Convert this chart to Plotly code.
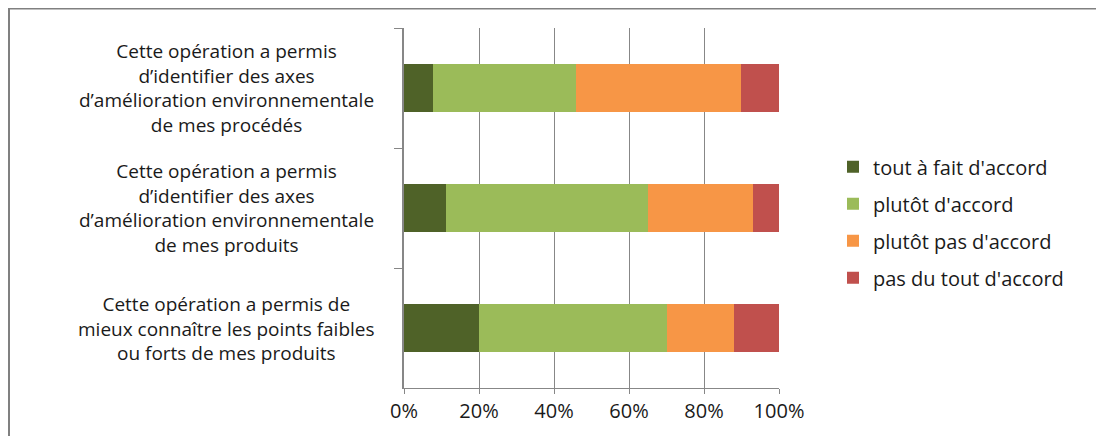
import plotly.graph_objects as go

# survey statements (top to bottom) and answer shares
categories = [
    "Cette opération a permis<br>d’identifier des axes<br>d’amélioration environnementale<br>de mes procédés",
    "Cette opération a permis<br>d’identifier des axes<br>d’amélioration environnementale<br>de mes produits",
    "Cette opération a permis de<br>mieux connaître les points faibles<br>ou forts de mes produits",
]
cat_ids = ["procedes", "produits", "points"]

series_names = ["tout à fait d'accord", "plutôt d'accord", "plutôt pas d'accord", "pas du tout d'accord"]
tout_a_fait = [0.077, 0.112, 0.199]
plutot = [0.381, 0.539, 0.502]
plutot_pas = [0.441, 0.280, 0.179]
pas_du_tout = [0.101, 0.077, 0.120]

colors = ["#4F6228", "#9BBB59", "#F79646", "#C0504D"]
x_ticks = [0, 0.2, 0.4, 0.6, 0.8, 1.0]

# the page body adds an 8px margin, so the figure is drawn 8px smaller
OFF = 8
W, H = 1104 - OFF, 436 - OFF
L, T = 404 - OFF, 28 - OFF
R, B = W - (779 - OFF), H - (390 - OFF)
pw, ph = W - L - R, H - T - B

def px_x(p):
    # reference pixel -> paper x
    return (p - OFF - L) / pw

def px_y(p):
    # reference pixel -> paper y
    return (H - B - (p - OFF)) / ph

fig = go.Figure()
for i, (name, vals) in enumerate(zip(series_names, [tout_a_fait, plutot, plutot_pas, pas_du_tout])):
    fig.add_trace(go.Bar(
        y=cat_ids, x=vals, name=name, orientation="h",
        marker=dict(color=colors[i], line=dict(width=0)),
        legendgroup=str(i),
    ))

label_font = dict(family="Open Sans", size=19, color="#1a1a1a")
tick_font = dict(family="Open Sans", size=20, color="#1a1a1a")

# category labels, centred like the original
for cid, label in zip(cat_ids, categories):
    fig.add_annotation(
        x=px_x(226), xref="paper", y=cid, yref="y",
        text=label, showarrow=False, align="center",
        xanchor="center", yanchor="middle", font=label_font,
    )

# outer chart frame (only top and left edges visible)
fig.add_shape(type="rect", xref="paper", yref="paper",
              x0=px_x(9), x1=px_x(1120), y0=px_y(450), y1=px_y(8.5),
              line=dict(color="#808080", width=2), layer="below")

fig.update_layout(
    width=W, height=H,
    margin=dict(l=L, r=R, t=T, b=B),
    barmode="stack", bargap=0.6,
    plot_bgcolor="white", paper_bgcolor="white",
    font=label_font,
    showlegend=True,
    legend=dict(
        x=px_x(833), xanchor="left", y=px_y(148), yanchor="top",
        traceorder="grouped", tracegroupgap=8,
        font=tick_font,
        bgcolor="rgba(0,0,0,0)",
    ),
    xaxis=dict(
        range=[0, 1], tickvals=x_ticks, tickformat=".0%",
        showgrid=True, gridcolor="#878787", gridwidth=1,
        showline=True, linecolor="#878787", linewidth=1,
        ticks="outside", ticklen=5, tickcolor="#878787",
        zeroline=False, tickfont=tick_font,
    ),
    yaxis=dict(
        categoryorder="array", categoryarray=cat_ids, autorange="reversed",
        showticklabels=False, showgrid=False,
        showline=True, linecolor="#878787", linewidth=2,
        ticks="outside", tickson="boundaries", ticklen=8, tickcolor="#878787",
        zeroline=False,
    ),
)

fig.write_html("out.html")
